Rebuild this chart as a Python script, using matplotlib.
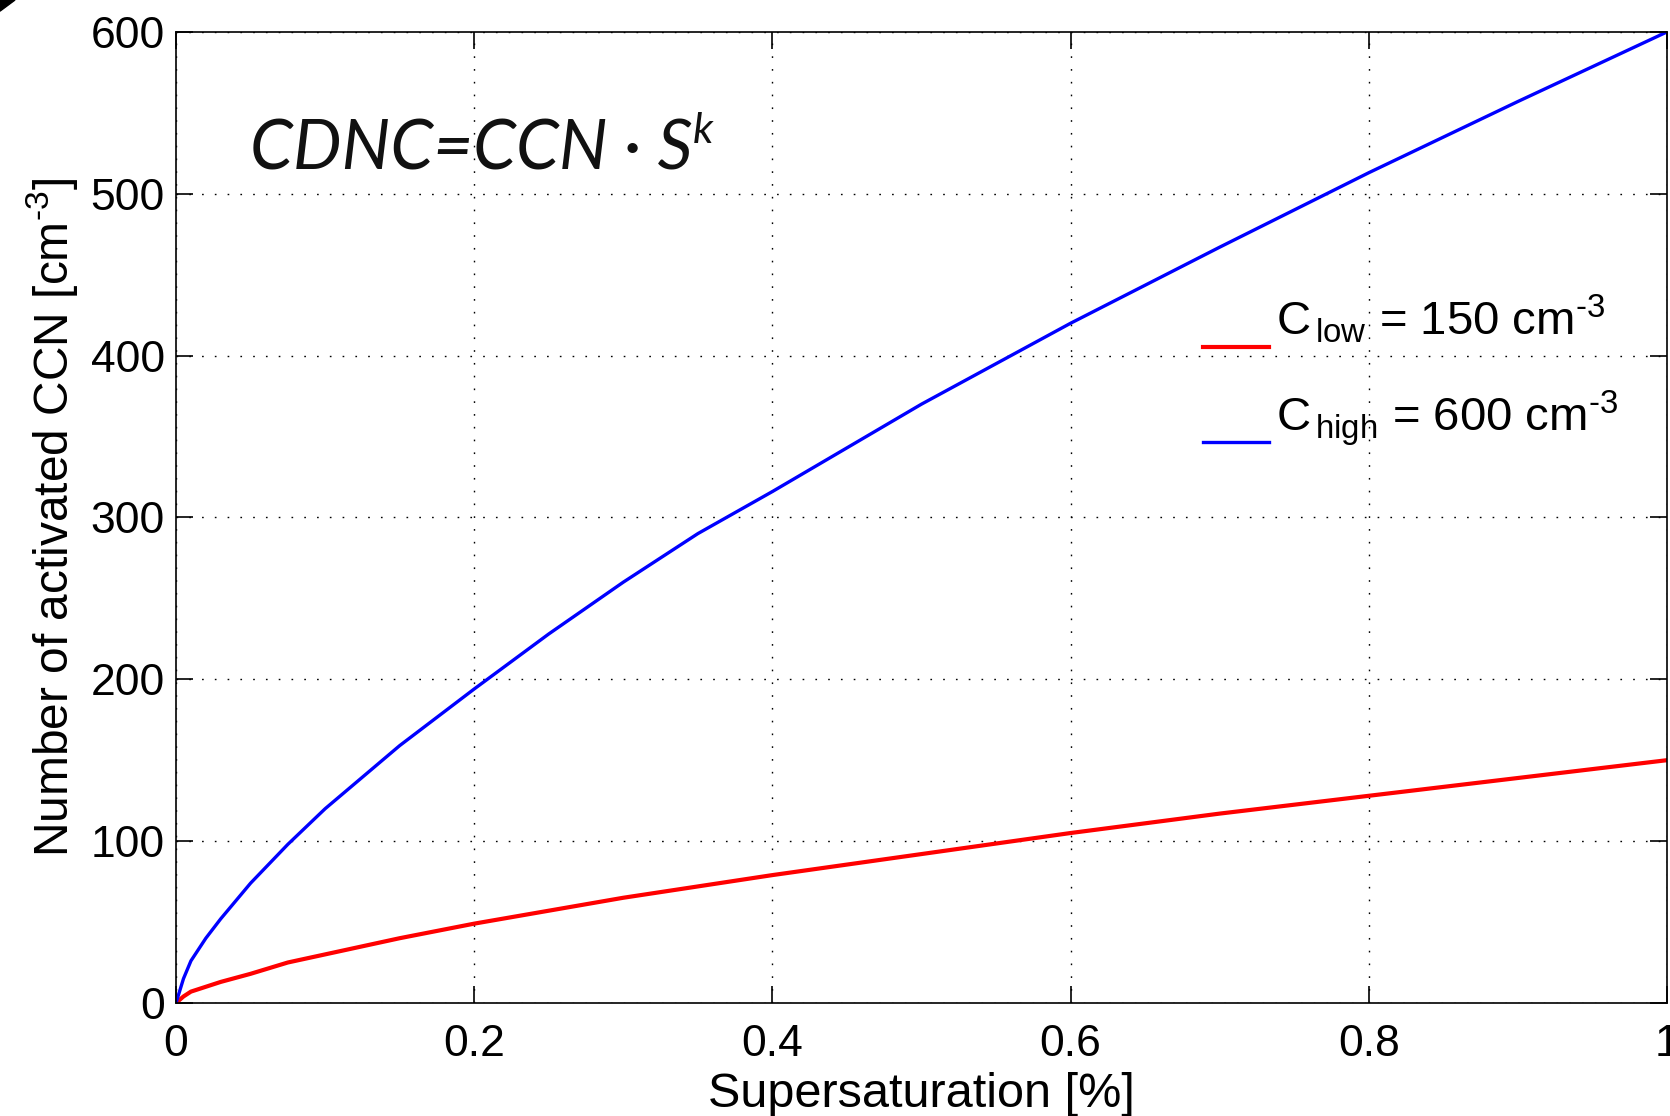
import matplotlib
matplotlib.use("Agg")
import matplotlib.pyplot as plt
from matplotlib.patches import Polygon
from matplotlib.lines import Line2D
from matplotlib.legend_handler import HandlerLine2D

# supersaturation [%] and activated CCN [cm-3]
supersat = [0, 0.005, 0.01, 0.02, 0.03, 0.05, 0.075, 0.1, 0.15, 0.2, 0.25,
            0.3, 0.35, 0.4, 0.5, 0.6, 0.7, 0.8, 0.9, 1.0]
ccn_high = [0, 15, 26, 40, 52, 74, 98, 120, 159, 194, 228,
            260, 290, 316, 370, 420, 467, 513, 557, 600]
ccn_low = [0, 4, 7, 10, 13, 18, 25, 30, 40, 49, 57,
           65, 72, 79, 92, 105, 117, 128, 139, 150]

xticks = [0, 0.2, 0.4, 0.6, 0.8, 1]
xticklabels = ["0", "0.2", "0.4", "0.6", "0.8", "1"]
yticks = [0, 100, 200, 300, 400, 500, 600]

plt.rcParams['font.family'] = ['Liberation Sans', 'DejaVu Sans']
plt.rcParams['mathtext.fontset'] = 'custom'
plt.rcParams['mathtext.rm'] = 'Liberation Sans'
plt.rcParams['mathtext.it'] = 'Liberation Sans:italic'


class LowLineHandler(HandlerLine2D):
    # matlab puts the legend line near the bottom of the text
    def create_artists(self, legend, orig_handle, xdescent, ydescent,
                       width, height, fontsize, trans):
        arts = super().create_artists(legend, orig_handle, xdescent, ydescent,
                                      width, height, fontsize, trans)
        for a in arts:
            a.set_ydata([y - 0.6 * fontsize for y in a.get_ydata()])
        return arts


fig = plt.figure(figsize=(16.7, 11.16), dpi=100)
ax = fig.add_axes([0.1054, 0.1013, 0.8928, 0.8701])

ax.plot(supersat, ccn_low, color='#ff0000', lw=3.0,
        label=r'C$_{\,\mathrm{low}}$ = 150 cm$^{\text{-3}}$')
ax.plot(supersat, ccn_high, color='#0000ff', lw=2.4,
        label=r'C$_{\,\mathrm{high}}$ = 600 cm$^{\text{-3}}$')

ax.set_xlim(0, 1)
ax.set_ylim(0, 600)
ax.set_xticks(xticks)
ax.set_xticklabels(xticklabels)
ax.set_yticks(yticks)
ax.tick_params(direction='in', length=12, width=1.2, labelsize=32,
               top=True, right=True)
ax.tick_params(axis='x', pad=15)
ax.tick_params(axis='y', pad=8)
for s in ax.spines.values():
    s.set_linewidth(1.2)

ax.grid(True, color='black', linestyle=(0, (1.2, 8)), linewidth=1.0)

ax.set_xlabel('Supersaturation [%]', fontsize=35, labelpad=5)
ax.set_ylabel(r'Number of activated CCN [cm$^{\text{-3}}$]', fontsize=34.5,
              labelpad=8)

leg = ax.legend(loc='upper left', bbox_to_anchor=(0.66, 0.775), frameon=False,
                fontsize=34, handlelength=1.4, handletextpad=0.15,
                labelspacing=0.9, handler_map={Line2D: LowLineHandler()})

# formula in the upper left
t = ax.text(0.0496, 0.858, 'CDNC=CCN · S', transform=ax.transAxes,
            fontsize=49.5, family=['Lato', 'DejaVu Sans'], style='italic',
            color='#111111', va='baseline', ha='left')
ax.annotate('k', xy=(1, 1), xycoords=t, xytext=(0, 5),
            textcoords='offset points', fontsize=31,
            family=['Lato', 'DejaVu Sans'], style='italic',
            color='#111111', va='top', ha='left')

# dark corner in the top left of the slide
fig.patches.append(Polygon([[0, 1], [0.009, 1], [0, 0.99]], closed=True,
                           transform=fig.transFigure, color='black'))

fig.savefig('out.png', dpi=100)
